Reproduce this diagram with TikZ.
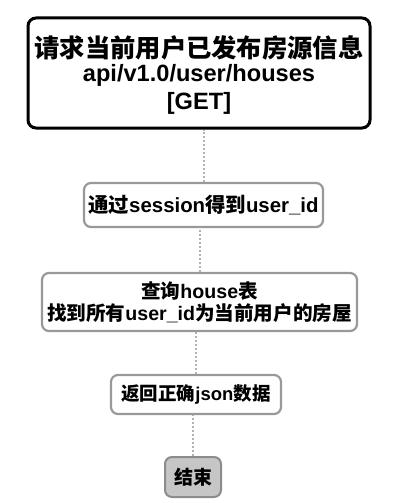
\documentclass[tikz,border=0pt]{standalone}
\usepackage{fontspec}
\setmainfont{Liberation Sans}
\newfontfamily\cjk{Noto Sans CJK SC}
\newcommand{\C}[1]{{\cjk\bfseries #1}}
\begin{document}
\begin{tikzpicture}[x=1pt,y=-1pt,
  startbox/.style={draw=black,line width=3pt,rounded corners=8pt,fill=white,align=center,inner sep=0pt,font=\bfseries},
  stepbox/.style={draw=gray!80,line width=2.2pt,rounded corners=7pt,fill=white,align=center,inner sep=0pt,font=\bfseries\fontsize{19}{21}\selectfont},
  endbox/.style={draw=gray!90,line width=2pt,rounded corners=7pt,fill=gray!45,align=center,inner sep=0pt,font=\bfseries\fontsize{19}{21}\selectfont},
  link/.style={draw=gray!60,line width=2pt,dotted}]
\useasboundingbox (0,0) rectangle (401,503);
\fill[white] (0,0) rectangle (401,503);
\node[startbox,minimum width=342pt,minimum height=110pt] (b1) at (199,73) {};
\node at (199,48) {\fontsize{25.3}{26}\selectfont\C{请求当前用户已发布房源信息}};
\node at (199,75) {\fontsize{23.6}{26}\selectfont\bfseries api/v1.0/user/houses};
\node at (199,103) {\fontsize{23.6}{26}\selectfont\bfseries [GET]};
\node[stepbox,minimum width=239pt,minimum height=44pt,font=\bfseries\fontsize{20.4}{22}\selectfont] (b2) at (203.5,205) {\C{通过}session\C{得到}user\_id};
\node[stepbox,minimum width=315pt,minimum height=58pt,font=\bfseries\fontsize{19.6}{21}\selectfont] (b3) at (199.5,302) {\C{查询}house\C{表}\\[1pt]\C{找到所有}user\_id\C{为当前用户的房屋}};
\node[stepbox,minimum width=170pt,minimum height=39pt,font=\bfseries\fontsize{18.5}{21}\selectfont] (b4) at (196,394.5) {\C{返回正确}json\C{数据}};
\node[endbox,minimum width=56pt,minimum height=40pt] (b5) at (193,477) {\C{结束}};
\draw[link] (b2.north) -- (b2.north |- b1.south);
\draw[link] (b3.north) -- (b3.north |- b2.south);
\draw[link] (b4.north) -- (b4.north |- b3.south);
\draw[link] (b5.north) -- (b5.north |- b4.south);
\end{tikzpicture}
\end{document}
